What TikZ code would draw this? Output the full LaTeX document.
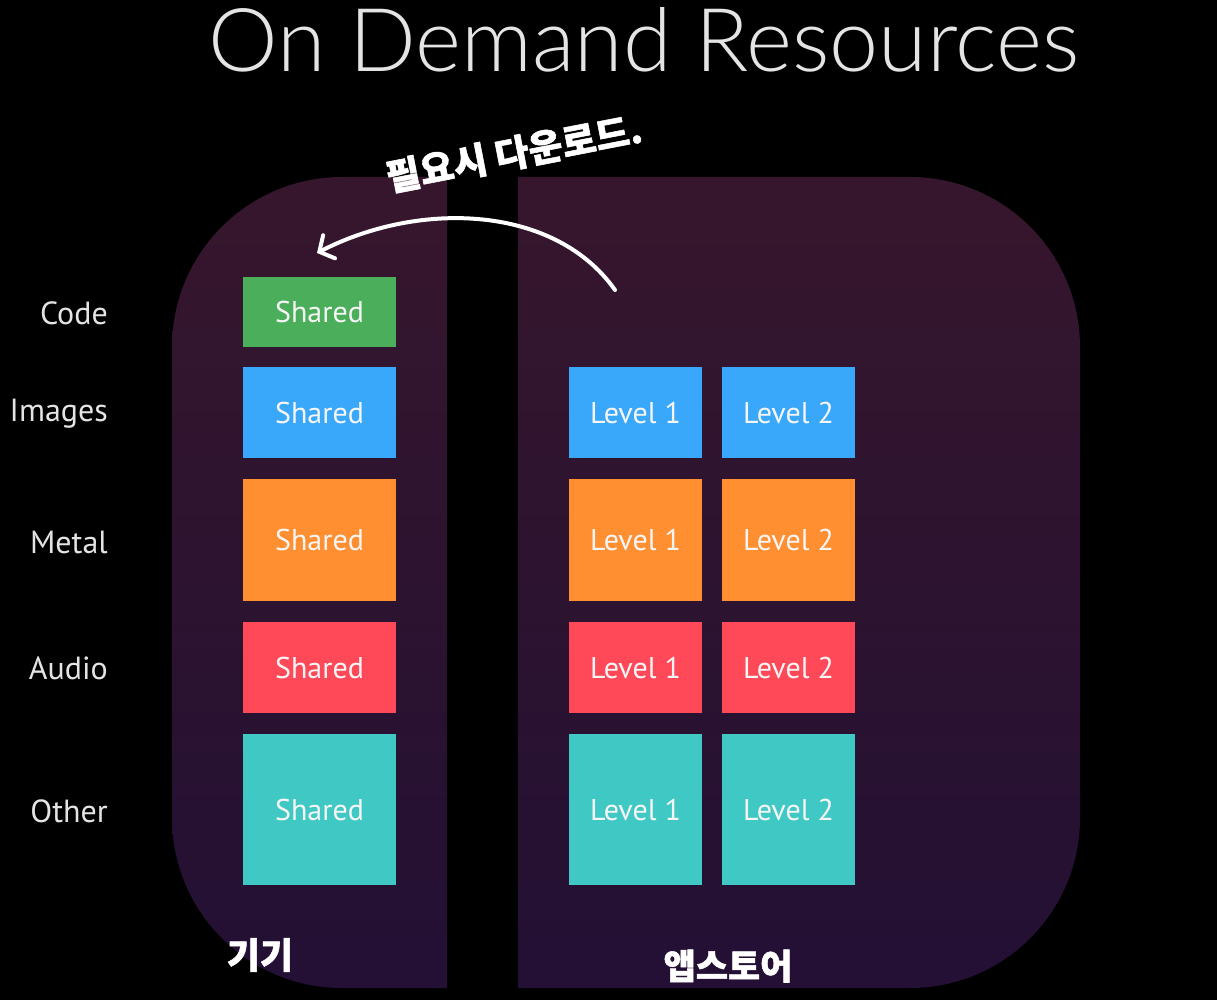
\documentclass[tikz,border=0pt]{standalone}
\usepackage{fontspec}
\setmainfont{PT Sans}
\newfontfamily\titlefont{Lato Light}
\newfontfamily\kr{Noto Sans CJK KR}[FakeBold=1.5]
\usetikzlibrary{arrows.meta}
\definecolor{bgtop}{RGB}{54,22,44}
\definecolor{bgbot}{RGB}{35,16,52}
\definecolor{cgreen}{RGB}{74,174,90}
\definecolor{cblue}{RGB}{57,167,250}
\definecolor{corange}{RGB}{255,143,48}
\definecolor{cred}{RGB}{255,72,88}
\definecolor{cteal}{RGB}{64,201,196}
\definecolor{labgray}{RGB}{228,228,228}
\tikzset{
  box/.style={inner sep=0pt, minimum width=153pt, text=white!92!gray, font=\fontsize{30}{33}\selectfont},
  lbox/.style={box, minimum width=133pt},
  rowlab/.style={anchor=east, inner sep=0pt, text=labgray, font=\fontsize{32}{36}\selectfont},
  hand/.style={text=white, inner sep=0pt, font=\kr\bfseries\fontsize{37}{40}\selectfont},
  dlarrow/.style={white, line width=4pt, line cap=round, -{Straight Barb[length=11pt,width=26pt,line cap=round]}}
}
\begin{document}
\begin{tikzpicture}[x=1pt,y=-1pt]
\useasboundingbox (0,0) rectangle (1217,1000);
\fill[black] (0,0) rectangle (1217,1000);
\shade[top color=bgtop, bottom color=bgbot, rounded corners=170pt] (172,177) rectangle (1080,988);
\fill[black] (447,170) rectangle (518,995);

\node[inner sep=0pt, text=labgray, font=\titlefont\fontsize{88}{96}\selectfont] (title) at (644,40) {On Demand Resources};

% row labels
\node[rowlab] (lcode) at (108,313) {Code};
\node[rowlab] (limg) at (108,414) {Images};
\node[rowlab] (lmetal) at (108,542) {Metal};
\node[rowlab] (laudio) at (108,668) {Audio};
\node[rowlab] (lother) at (108,811) {Other};

% shared column
\node[box, fill=cgreen, minimum height=70pt] (scode) at (319.5,312) {Shared};
\node[box, fill=cblue, minimum height=91pt] (simg) at (319.5,412.5) {Shared};
\node[box, fill=corange, minimum height=122pt] (smetal) at (319.5,540) {Shared};
\node[box, fill=cred, minimum height=91pt] (saudio) at (319.5,667.5) {Shared};
\node[box, fill=cteal, minimum height=151pt] (sother) at (319.5,809.5) {Shared};

% level 1
\node[lbox, fill=cblue, minimum height=91pt] (aimg) at (635.5,412.5) {Level 1};
\node[lbox, fill=corange, minimum height=122pt] (ametal) at (635.5,540) {Level 1};
\node[lbox, fill=cred, minimum height=91pt] (aaudio) at (635.5,667.5) {Level 1};
\node[lbox, fill=cteal, minimum height=151pt] (aother) at (635.5,809.5) {Level 1};

% level 2
\node[lbox, fill=cblue, minimum height=91pt] (bimg) at (788.5,412.5) {Level 2};
\node[lbox, fill=corange, minimum height=122pt] (bmetal) at (788.5,540) {Level 2};
\node[lbox, fill=cred, minimum height=91pt] (baudio) at (788.5,667.5) {Level 2};
\node[lbox, fill=cteal, minimum height=151pt] (bother) at (788.5,809.5) {Level 2};

% handwritten notes
\node[hand, rotate=11] (dl) at (514,153) {필요시 다운로드.};
\node[hand, font=\kr\bfseries\fontsize{36}{40}\selectfont] (device) at (260,955) {기기};
\node[hand, font=\kr\bfseries\fontsize{35}{38}\selectfont] (store) at (728,966) {앱스토어};

\coordinate (astart) at (615,290);
\coordinate (aend) at (317,253);
\draw[dlarrow] (astart) .. controls (555,205) and (420,200) .. (aend);
\end{tikzpicture}
\end{document}
